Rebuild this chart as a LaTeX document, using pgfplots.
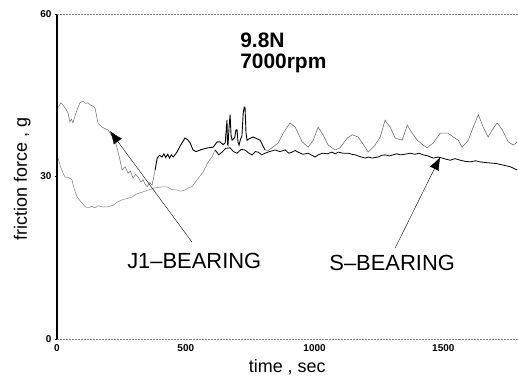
\documentclass[border=0pt]{standalone}
\usepackage{fontspec}
\setmainfont{Liberation Sans}
\usepackage{pgfplots}
\pgfplotsset{compat=1.18}
\usetikzlibrary{arrows.meta}
\begin{document}
\begin{tikzpicture}
\useasboundingbox (-57bp,-38bp) rectangle (461bp,339bp);
\begin{axis}[
  at={(0,0)}, anchor=south west,
  scale only axis, width=461bp, height=325bp,
  xmin=0, xmax=1790, ymin=0, ymax=60,
  axis line style={draw=none},
  xtick={0,500,1000,1500}, ytick={0,30,60},
  tick label style={font=\fontsize{10}{10}\selectfont\bfseries},
  /pgf/number format/assume math mode=true,
  /pgf/number format/1000 sep={},
  xtick style={draw=none},
  ytick style={black, line width=0.6pt},
  tick align=outside, major tick length=2bp,
  clip=false,
]
% J1-BEARING (start, faint in the scan)
\addplot[black!55, line width=0.55pt] coordinates {
(5,42.8)(15,43.6)(23,43.2)(35,42.4)(43,41.7)(50,40.1)(56,40.6)(62,39.9)(70,41.2)(78,42.3)(89,43.6)(101,43.9)(110,43.5)(120,43.6)(130,43.2)(140,43.0)(148,42.6)(159,39.9)(175,39.1)(198,38.6)(225,36.7)(240,34.0)(253,31.2)(265,31.8)(276,30.6)(285,31.0)(295,29.7)(305,30.4)(315,29.9)(325,29.0)(334,29.4)(342,28.6)(350,28.1)(360,28.9)(369,28.4)(381,31.2)
};
% J1-BEARING (middle, heavy)
\addplot[black, line width=0.9pt] coordinates {
(381,31.2)(389,33.4)(398,33.9)(408,33.6)(415,34.2)(422,33.5)(430,34.1)(437,33.4)(444,34.0)(451,33.6)(466,34.5)(480,35.8)(497,37.1)(507,36.8)(517,36.2)(528,34.9)(540,34.6)(556,34.9)(570,35.1)(587,35.3)(606,35.4)(622,36.4)(633,36.4)(645,35.9)(653,36.2)(657,38.5)(660,40.4)(662,36.0)(664,35.8)(668,39.0)(672,41.4)(676,37.5)(680,36.7)(690,37.2)(695,38.6)(699,38.6)(703,36.3)(707,35.8)(712,36.8)(718,37.5)(723,41.7)(727,42.8)(730,42.8)(734,38.0)(738,36.7)(748,37.0)(761,37.3)(775,37.0)(789,36.7)(800,35.6)(808,34.9)
};
% J1-BEARING (right, wavy and faint)
\addplot[black!60, line width=0.55pt] coordinates {
(808,34.9)(820,34.8)(835,35.3)(859,36.2)(878,38.0)(905,39.9)(925,39.1)(952,36.4)(975,35.4)(995,36.7)(1014,39.1)(1033,37.7)(1053,35.8)(1080,34.9)(1099,35.3)(1127,37.1)(1146,37.7)(1169,37.3)(1197,35.4)(1208,34.5)(1235,35.8)(1255,37.3)(1274,40.4)(1294,39.1)(1313,37.1)(1340,36.7)(1360,39.5)(1379,38.0)(1399,36.7)(1422,35.8)(1437,35.3)(1461,36.2)(1488,38.0)(1519,38.0)(1538,37.3)(1558,36.7)(1573,35.4)(1597,36.7)(1616,39.1)(1636,41.4)(1655,39.1)(1674,37.3)(1690,38.6)(1709,39.9)(1729,38.6)(1752,36.4)(1772,35.8)(1787,36.4)
};
% S-BEARING (start, faint)
\addplot[black!50, line width=0.5pt] coordinates {
(4,33.4)(12,32.1)(20,31.0)(31,29.9)(45,29.8)(58,29.4)(68,27.5)(78,26.2)(97,25.1)(110,24.4)(120,24.2)(135,24.5)(148,24.2)(160,24.6)(175,24.4)(198,24.4)(218,24.7)(235,25.3)(253,25.7)(270,25.9)(291,26.2)(310,26.8)(330,27.1)(354,27.5)(381,27.9)(408,28.1)(427,28.1)(445,27.6)(466,27.5)(480,27.3)(497,27.5)(510,27.9)(524,28.1)(544,29.4)(567,30.8)(587,32.7)(602,33.6)(614,34.9)
};
% S-BEARING (rest, heavy)
\addplot[black, line width=0.8pt] coordinates {
(614,34.9)(628,34.0)(641,34.5)(655,35.2)(672,35.3)(685,34.6)(699,34.3)(715,35.0)(730,34.9)(745,34.3)(758,34.0)(770,34.6)(781,34.5)(795,34.0)(808,34.3)(825,34.6)(847,34.9)(865,34.6)(886,34.9)(900,34.3)(913,34.5)(925,34.8)(936,34.5)(955,34.1)(975,34.3)(990,33.9)(1002,33.6)(1015,34.0)(1030,34.3)(1050,34.2)(1068,34.5)(1080,34.2)(1092,34.5)(1110,34.3)(1131,34.3)(1145,34.1)(1158,34.0)(1175,33.7)(1197,33.4)(1210,33.6)(1224,33.4)(1247,33.6)(1260,33.9)(1274,34.0)(1290,33.8)(1305,34.0)(1320,34.2)(1333,34.0)(1350,34.1)(1371,34.3)(1390,34.1)(1405,34.3)(1422,34.0)(1440,33.8)(1461,33.4)(1480,33.6)(1496,33.4)(1510,33.2)(1527,33.0)(1545,33.3)(1566,33.0)(1585,32.8)(1604,32.7)(1625,32.9)(1643,32.7)(1660,32.6)(1682,32.5)(1705,32.4)(1733,32.1)(1760,31.8)(1787,31.2)
};
% frame
\draw[line width=1.2pt] (axis cs:0,0) -- (axis cs:0,60);
\draw[gray, densely dotted, line width=0.5pt] (axis cs:0,60) -- (axis cs:1790,60);
\draw[gray, densely dotted, line width=0.5pt] (axis cs:0,0) -- (axis cs:1790,0);
% annotations
\node[anchor=base west, inner sep=0, font=\fontsize{21}{21}\selectfont\bfseries] at (axis cs:711,53.9) {9.8N};
\node[anchor=base west, inner sep=0, font=\fontsize{21}{21}\selectfont\bfseries] at (axis cs:711,50.0) {7000rpm};
\node[anchor=base west, inner sep=0, font=\fontsize{22}{22}\selectfont] at (axis cs:272,13.1) {J1\textendash BEARING};
\node[anchor=base west, inner sep=0, font=\fontsize{22}{22}\selectfont] at (axis cs:1057,12.7) {S\textendash BEARING};
\draw[line width=0.4pt, -{Latex[length=13bp,width=10bp]}] (axis cs:524,17.9) -- (axis cs:206,38.4);
\draw[line width=0.4pt, -{Latex[length=13bp,width=10bp]}] (axis cs:1313,16.8) -- (axis cs:1488,33.6);
% axis labels
\node[anchor=base, inner sep=0, font=\fontsize{18}{18}\selectfont] at (axis cs:894,-6.1) {time , sec};
\node[anchor=base, rotate=90, inner sep=0, font=\fontsize{18}{18}\selectfont] at (axis cs:-117,29.5) {friction force , g};
\end{axis}
\end{tikzpicture}
\end{document}
